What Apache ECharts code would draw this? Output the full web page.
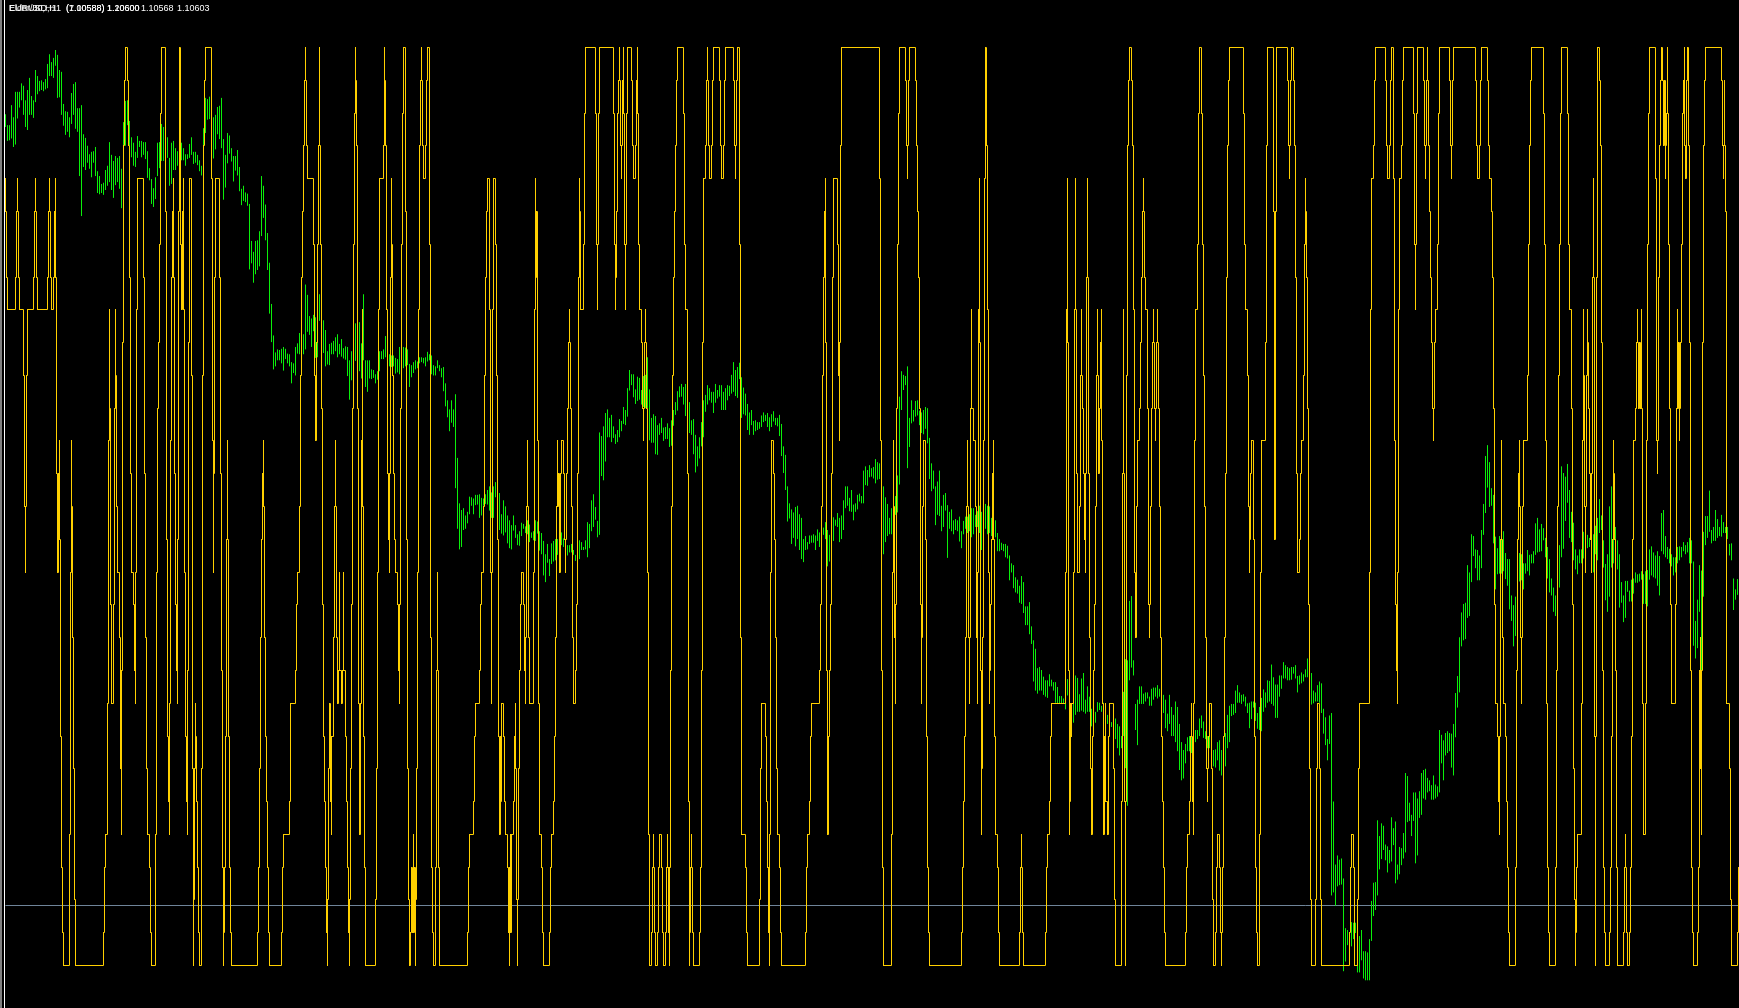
<!DOCTYPE html>
<html>
<head>
<meta charset="utf-8">
<style>html,body{margin:0;padding:0;background:#000}#c{width:1739px;height:1008px}</style>
<script src="https://cdn.jsdelivr.net/npm/echarts@6/dist/echarts.min.js"></script>
</head>
<body>
<div id="c"></div>
<script>
// price bars: [high, low], one bar every second time step, in an unlabelled price scale (larger = lower on screen)
const barStart = 5;
const barStep = 2;
const priceRanges = [
[139,160],[157,183],[157,182],[124,179],[144,193],[102,189],[102,146],[102,128],[88,116],[92,140],[116,160],[99,165],[79,140],[109,140],[116,145],[66,119],[76,106],[84,101],[83,99],[86,101],[81,98],[56,96],[40,76],[53,76],[46,79],[33,59],[41,112],[66,111],[69,140],[122,158],[134,173],[135,168],[144,177],[104,155],[89,140],[86,163],[129,168],[129,241],[124,307],[172,226],[178,231],[191,219],[205,229],[201,243],[200,219],[193,241],[233,269],[241,271],[254,269],[252,272],[231,264],[224,257],[185,251],[206,264],[216,277],[208,256],[211,251],[208,262],[229,294],[152,191],[117,191],[116,157],[150,190],[177,210],[186,224],[201,226],[175,211],[183,193],[183,210],[185,206],[185,213],[200,244],[228,248],[246,287],[261,292],[243,279],[186,241],[185,228],[155,216],[160,216],[190,215],[177,211],[211,257],[186,254],[183,231],[195,231],[200,224],[203,228],[186,215],[195,215],[205,224],[205,213],[188,211],[177,206],[201,221],[201,219],[206,223],[215,233],
[224,240],[162,190],[112,170],[114,148],[110,147],[112,160],[144,212],[140,197],[127,172],[125,180],[112,195],[180,280],[206,260],[170,220],[174,204],[195,217],[208,250],[208,232],[198,240],[226,266],[262,289],[257,282],[268,284],[270,290],[287,395],[348,385],[366,417],[348,403],[347,396],[332,390],[241,340],[257,310],[288,347],[335,396],[384,468],[452,515],[504,560],[532,555],[527,545],[528,545],[526,550],[523,562],[526,543],[534,550],[535,555],[548,583],[550,566],[523,570],[517,534],[500,535],[480,535],[502,535],[420,527],[437,498],[472,503],[476,523],[470,497],[474,541],[515,540],[436,480],[515,533],[479,533],[495,555],[530,552],[518,553],[516,535],[513,535],[507,530],[502,540],[518,535],[510,539],[525,542],[522,544],[523,571],[545,610],[530,578],[516,560],[484,546],[515,527],[482,563],[517,575],[436,545],[545,589],[545,597],[545,575],[560,576],[561,574],[568,583],[563,577],[530,563],[530,543],[527,543],[505,540],[502,540],[535,555],[537,556],[537,555],[541,567],[543,565],[523,568],[540,558],[523,558],[524,555],[527,553],[551,589],[553,573],[548,566],[545,560],[547,558],[540,550],[540,548],[541,550],
[540,555],[531,547],[535,545],[537,568],[553,570],[555,570],[545,558],[553,563],[558,573],[556,596],[583,621],[611,639],[626,662],[611,648],[626,655],[601,756],[706,823],[781,857],[792,853],[789,825],[801,823],[795,814],[770,799],[771,785],[773,799],[767,784],[767,783],[766,805],[772,801],[773,785],[766,782],[759,783],[753,793],[763,805],[753,805],[746,771],[770,795],[764,825],[799,831],[776,834],[786,829],[801,847],[809,855],[817,857],[801,826],[817,838],[832,850],[827,851],[813,835],[815,823],[819,830],[809,832],[816,845],[829,838],[827,842],[809,843],[811,831],[827,859],[830,865],[843,900],[865,911],[848,879],[873,901],[847,881],[843,877],[840,875],[840,866],[839,851],[829,850],[839,853],[840,855],[850,867],[850,862],[848,862],[858,866],[866,876],[855,868],[842,873],[845,858],[853,858],[842,857],[812,870],[815,855],[776,827],[766,820],[787,808],[810,837],[664,833],[670,736],[654,743],[632,712],[626,672],[640,672],[635,680],[654,673],[667,683],[660,680],[642,672],[645,662],[622,650],[627,652],[591,638],[561,595],[568,586],[568,606],[593,617],[572,612],[574,610],[594,618],[571,622],[569,624],[540,624],[593,677],
[640,681],[634,681],[637,700],[652,701],[649,668],[640,665],[656,678],[655,675],[649,675],[657,688],[644,686],[627,653],[614,635],[596,628],[588,606],[584,605],[589,618],[584,637],[601,657],[614,665],[644,668],[642,700],[668,730],[687,720],[672,707],[647,687],[611,672],[602,630],[586,618],[591,611],[597,615],[597,632],[584,615],[594,608],[586,605],[586,627],[597,627],[591,627],[586,611],[587,604],[569,600],[548,597],[561,604],[556,607],[549,576],[573,640],[590,634],[600,636],[617,660],[631,668],[627,652],[645,668],[644,662],[647,660],[647,658],[636,655],[631,647],[635,645],[632,655],[639,662],[634,655],[629,646],[640,652],[640,654],[635,670],[650,703],[687,731],[701,759],[753,811],[781,806],[791,848],[796,838],[787,852],[785,840],[799,858],[805,873],[840,878],[835,858],[845,857],[834,848],[834,846],[832,846],[834,858],[824,843],[829,853],[820,835],[821,833],[812,840],[825,885],[833,877],[825,860],[804,843],[808,818],[797,820],[805,845],[801,840],[776,825],[753,789],[753,785],[772,794],[759,795],[783,809],[781,795],[767,791],[765,778],[769,781],[727,781],[720,751],[726,752],[718,738],[723,737],[721,740],
[708,748],[713,742],[715,741],[715,738],[753,865],[771,845],[782,835],[805,832],[789,832],[785,800],[769,800],[735,796],[605,750],[563,627],[569,594],[571,586],[555,723],[640,688],[611,649],[627,646],[612,638],[611,636],[628,652],[631,665],[627,667],[622,658],[624,682],[673,741],[715,761],[727,757],[753,817],[745,800],[727,802],[785,827],[767,820],[764,793],[784,871],[795,823],[791,827],[809,832],[807,825],[809,827],[803,844],[827,855],[810,832],[803,823],[803,830],[799,827],[789,837],[789,832],[800,820],[794,820],[785,830],[795,858],[790,825],[782,823],[785,832],[786,830],[805,835],[810,840],[809,837],[830,860],[840,860],[846,858],[848,860],[848,870],[851,872],[867,908],[880,895],[883,921],[903,928],[907,930],[917,945],[901,947],[911,962],[951,982],[951,982],[944,997],[984,1013],[1007,1075],[1021,1090],[1053,1095],[1051,1090],[1056,1090],[1067,1097],[1073,1100],[1073,1102],[1063,1083],[1072,1083],[1076,1090],[1076,1110],[1084,1112],[1099,1112],[1099,1112],[1103,1112],[1108,1121],[1071,1098],[1100,1120],[1115,1135],[1110,1143],[1065,1130],[1069,1125],[1096,1125],[1070,1123],[1061,1125],[1105,1128],[1083,1125],[1100,1125],[1120,1149],[1120,1150],[1125,1143],[1109,1125],[1110,1122],
[1115,1125],[1110,1130],[1112,1125],[1130,1145],[1115,1130],[1142,1150],[1112,1130],[1136,1170],[1145,1185],[1149,1197],[1165,1185],[1092,1165],[1038,1218],[1040,1280],[942,1073],[934,1052],[1040,1065],[1112,1155],[1105,1180],[1083,1112],[1083,1112],[1095,1112],[1093,1108],[1093,1103],[1100,1115],[1087,1115],[1085,1105],[1085,1100],[1081,1103],[1087,1100],[1100,1155],[1097,1127],[1105,1152],[1128,1157],[1097,1145],[1117,1165],[1130,1165],[1108,1175],[1117,1190],[1145,1221],[1175,1238],[1188,1235],[1178,1210],[1167,1190],[1165,1190],[1165,1193],[1163,1178],[1155,1175],[1155,1170],[1136,1165],[1131,1152],[1141,1168],[1157,1170],[1165,1185],[1165,1185],[1185,1205],[1188,1215],[1187,1217],[1175,1205],[1172,1222],[1188,1230],[1187,1218],[1160,1215],[1130,1185],[1115,1175],[1112,1132],[1112,1130],[1090,1127],[1081,1110],[1093,1110],[1097,1112],[1096,1108],[1100,1116],[1111,1127],[1110,1152],[1108,1137],[1108,1118],[1110,1140],[1127,1153],[1117,1155],[1102,1157],[1088,1125],[1093,1118],[1073,1110],[1074,1108],[1047,1112],[1068,1115],[1080,1135],[1080,1135],[1065,1100],[1065,1087],[1043,1070],[1048,1070],[1051,1073],[1053,1073],[1051,1072],[1051,1062],[1048,1070],[1066,1093],[1065,1080],[1060,1078],[1063,1075],[1055,1068],[1037,1068],[1063,1080],[1061,1113],[1090,1111],[1093,1108],[1081,1108],[1075,1110],[1078,1127],[1120,1161],
[1134,1180],[1170,1205],[1131,1178],[1127,1428],[1273,1423],[1377,1445],[1362,1413],[1369,1411],[1367,1410],[1400,1553],[1482,1537],[1485,1510],[1490,1510],[1472,1512],[1473,1500],[1473,1490],[1490,1555],[1495,1555],[1485,1535],[1520,1565],[1520,1568],[1522,1568],[1500,1568],[1437,1503],[1407,1462],[1406,1452],[1304,1428],[1330,1385],[1309,1368],[1313,1353],[1344,1370],[1347,1390],[1353,1375],[1299,1372],[1317,1345],[1306,1408],[1377,1402],[1348,1393],[1350,1378],[1325,1367],[1226,1357],[1231,1307],[1275,1305],[1295,1330],[1258,1305],[1258,1375],[1268,1362],[1256,1300],[1226,1295],[1221,1268],[1219,1270],[1234,1258],[1238,1256],[1246,1270],[1230,1270],[1245,1268],[1248,1265],[1155,1258],[1163,1210],[1172,1238],[1160,1197],[1157,1193],[1160,1190],[1161,1217],[1145,1230],[1094,1167],[1066,1118],[1002,1093],[961,1017],[947,1007],[945,1005],[883,970],[895,967],[832,911],[835,868],[857,888],[858,908],[867,908],[825,888],[782,833],[703,797],[685,755],[713,787],[756,785],[767,847],[836,923],[855,898],[835,897],[840,897],[827,893],[863,906],[873,917],[873,956],[933,975],[949,1017],[935,1000],[880,950],[863,910],[865,908],[880,923],[880,897],[858,893],[866,900],[865,880],
[860,880],[814,866],[805,862],[824,861],[815,860],[822,842],[838,870],[853,905],[873,928],[905,933],[920,960],[933,967],[890,950],[850,920],[720,870],[731,856],[737,810],[716,780],[759,838],[795,845],[813,875],[857,890],[867,898],[857,880],[857,880],[828,872],[840,895],[833,855],[838,853],[810,838],[832,895],[818,865],[805,875],[774,830],[801,825],[842,887],[881,941],[865,960],[786,935],[753,887],[839,880],[820,880],[842,890],[865,953],[911,945],[933,977],[909,970],[909,927],[925,943],[907,943],[905,930],[895,912],[898,912],[897,910],[893,907],[898,947],[893,947],[891,951],[857,907],[852,900],[862,903],[867,905],[860,917],[868,933],[797,860],[792,865],[835,870],[853,873],[856,880],[865,885],[870,900],[870,895],[853,880],[852,875],[853,870],[845,860],[850,865],[845,862],[838,880],[842,880],[877,1016],[975,1037],[940,1020],[883,960],[892,1057],[828,935],[802,850],[802,838],[760,828],[825,847],[820,843],[792,843],[807,838],[820,835],[800,836],[812,830],[820,830],[820,840],[848,867],[847,875],[905,957],[923,940],[906,932]
];
// oscillator: [time step, band number] at every change, band 0 is the top band and band 28 the bottom band
const oscillatorSteps = [
[5,4],[5,5],[6,7],[7,8],[15,7],[16,5],[17,4],[17,5],[18,7],[19,8],[23,10],[24,14],[25,16],[25,14],[26,10],[27,8],[33,7],[34,5],[35,4],[35,5],[36,7],[37,8],[47,7],[48,5],[49,4],[49,5],[50,7],[51,8],[53,7],[54,5],[55,4],[55,7],[56,13],[57,16],[58,13],[59,12],[59,15],[60,21],[61,25],[62,27],[63,28],[69,24],[70,16],[71,12],[71,14],[72,18],[73,22],[74,26],[75,28],[103,27],[104,25],[105,24],[107,20],[108,12],[109,8],[109,11],[110,17],[111,20],[113,17],[114,11],[115,8],[115,10],[116,14],[117,16],[119,18],[120,22],[121,24],[121,19],[122,9],[123,3],[124,1],[125,0],[127,1],[128,3],[129,7],[130,13],[131,16],[133,17],[134,19],[135,20],[135,16],[136,8],[137,4],[143,7],[144,13],[145,18],[146,22],[147,24],[149,25],[150,27],[151,28],[155,24],[156,16],[157,11],[158,9],[159,6],[160,2],[161,0],[165,5],[166,15],[167,21],[168,23],[169,24],[169,20],[170,12],[171,7],[172,5],[173,4],[173,7],[174,13],[175,17],[176,19],[177,20],[177,15],[178,5],[179,0],[180,6],[181,8],[182,5],[183,4],[183,8],[184,16],[185,21],[186,23],[187,24],[187,19],[188,9],[189,4],[191,10],[192,22],[193,28],[193,26],[194,22],[195,20],[195,21],[196,23],[197,25],[198,27],[199,28],
[201,22],[202,10],[203,3],[204,1],[205,0],[211,4],[212,12],[213,16],[213,13],[214,7],[215,4],[219,7],[220,13],[221,19],[222,25],[223,28],[223,27],[224,25],[225,21],[226,15],[227,12],[227,15],[228,21],[229,25],[230,27],[231,28],[257,27],[258,25],[259,22],[260,18],[261,15],[262,13],[263,12],[263,14],[264,18],[265,21],[266,23],[267,25],[268,27],[269,28],[281,27],[282,25],[283,24],[289,23],[290,20],[295,19],[296,17],[297,16],[299,14],[300,10],[301,7],[302,5],[303,3],[304,1],[305,0],[305,1],[306,3],[307,4],[313,6],[314,10],[315,12],[316,9],[317,6],[318,3],[319,0],[319,3],[320,6],[321,11],[322,17],[323,21],[324,23],[325,25],[326,27],[327,28],[327,26],[328,22],[329,20],[330,23],[331,24],[331,21],[333,18],[334,14],[335,12],[335,14],[336,18],[337,20],[338,19],[339,16],[339,19],[341,20],[342,19],[343,16],[343,19],[345,21],[346,23],[347,25],[348,27],[349,28],[349,26],[350,22],[351,17],[352,11],[353,6],[354,2],[355,0],[355,1],[356,3],[357,11],[358,20],[359,24],[360,20],[361,12],[362,8],[362,14],[363,21],[364,25],[365,28],[375,26],[376,22],[377,16],[378,8],[379,4],[383,3],[384,0],[384,1],[385,3],[386,8],[387,13],[388,15],[389,16],[389,13],[390,7],[391,4],[391,6],[392,10],[393,13],[394,15],[395,16],[397,17],[398,19],[399,20],[399,17],[400,11],[401,6],[402,2],[403,0],[405,5],[406,15],[407,22],[408,26],[409,28],[410,27],[411,25],[412,27],[413,24],[413,27],[414,25],[415,28],[415,26],[416,22],[417,16],[418,8],[419,3],[420,1],[421,0],[421,1],[422,3],[423,4],
[425,3],[426,1],[427,0],[429,6],[430,18],[431,25],[432,27],[433,28],[435,25],[436,19],[437,16],[437,19],[438,25],[439,28],[467,27],[468,25],[469,24],[473,23],[474,21],[475,20],[479,19],[480,17],[481,16],[483,14],[484,10],[485,7],[486,5],[487,4],[489,8],[490,16],[491,20],[491,16],[492,8],[493,4],[495,6],[496,10],[497,15],[498,21],[499,24],[500,21],[500,23],[501,20],[503,21],[504,23],[505,24],[507,25],[508,27],[509,28],[509,25],[510,24],[510,27],[511,24],[513,23],[514,21],[515,20],[515,22],[516,26],[517,28],[517,26],[518,22],[519,19],[520,17],[521,16],[523,17],[524,19],[525,20],[525,18],[526,14],[527,12],[527,14],[528,18],[529,20],[533,16],[534,8],[535,4],[535,7],[536,5],[537,12],[538,20],[539,24],[541,25],[542,27],[543,28],[549,27],[550,25],[551,24],[553,23],[554,21],[555,18],[556,14],[557,12],[557,14],[558,13],[559,16],[560,13],[561,12],[563,13],[564,15],[565,16],[565,15],[566,13],[567,11],[568,9],[569,8],[569,9],[570,11],[571,14],[572,18],[573,20],[575,19],[576,17],[577,13],[578,7],[579,4],[579,5],[580,8],[583,6],[584,2],[585,0],[595,2],[596,6],[597,8],[597,6],[598,2],[599,0],[613,2],[614,6],[615,8],[615,7],[616,5],[617,2],[618,1],[619,0],[619,1],[620,3],[621,4],[621,3],[622,1],[623,0],[623,2],[624,6],[625,8],[625,6],[626,2],[627,0],[631,1],[632,3],[633,4],[635,3],[636,1],[637,0],[637,2],[638,6],[639,8],[641,9],[642,11],[643,12],[643,11],[644,9],[645,8],[645,9],[646,11],[647,16],[648,24],[649,28],
[651,27],[652,25],[653,24],[653,25],[654,27],[655,28],[657,27],[658,25],[659,24],[661,25],[662,27],[663,28],[665,27],[666,25],[667,24],[667,25],[668,27],[668,25],[669,28],[669,25],[670,19],[671,14],[672,10],[673,7],[674,5],[675,3],[676,1],[677,0],[683,2],[684,6],[685,8],[687,13],[688,23],[689,28],[689,27],[690,25],[691,24],[691,25],[692,27],[693,28],[699,27],[700,25],[701,19],[702,9],[703,4],[705,3],[706,1],[707,0],[707,1],[708,3],[709,4],[711,3],[712,1],[713,0],[719,1],[720,3],[721,4],[723,3],[724,1],[725,0],[733,1],[734,3],[735,4],[735,3],[736,1],[737,0],[739,6],[740,18],[741,24],[745,25],[746,27],[747,28],[759,26],[760,22],[761,20],[765,21],[766,23],[767,25],[768,27],[768,25],[769,28],[769,24],[770,16],[771,12],[773,13],[774,15],[775,18],[776,22],[777,24],[779,25],[780,27],[781,28],[805,27],[806,25],[807,24],[809,23],[810,21],[811,20],[819,19],[820,17],[821,14],[822,10],[823,7],[824,5],[825,4],[825,9],[826,19],[827,24],[828,23],[828,21],[829,19],[830,17],[831,13],[832,7],[833,4],[837,6],[838,10],[839,12],[839,9],[840,3],[841,0],
[879,4],[880,12],[881,19],[882,25],[883,28],[891,24],[892,16],[893,12],[893,14],[894,18],[895,20],[895,17],[896,11],[897,6],[898,2],[899,0],[905,1],[906,3],[907,4],[907,3],[908,1],[909,0],[915,1],[916,3],[917,5],[918,7],[919,11],[920,17],[921,20],[921,18],[922,14],[923,12],[925,15],[926,21],[927,25],[928,27],[929,28],[961,27],[962,25],[963,23],[964,21],[965,18],[966,14],[967,12],[967,14],[968,18],[969,20],[969,18],[970,11],[971,8],[971,11],[973,12],[975,14],[976,18],[977,20],[977,16],[978,8],[979,4],[979,9],[980,19],[981,24],[981,22],[982,18],[983,12],[984,4],[985,0],[986,3],[987,8],[988,16],[989,20],[989,19],[990,17],[991,15],[992,13],[992,15],[993,12],[993,15],[994,21],[995,24],[997,25],[998,27],[999,28],[1019,27],[1020,25],[1021,24],[1021,25],[1022,27],[1023,28],[1045,27],[1046,25],[1047,24],[1049,23],[1050,21],[1051,20],[1065,16],[1066,8],[1067,4],[1067,9],[1068,19],[1069,24],[1069,23],[1070,20],[1071,21],[1071,20],[1073,16],[1074,8],[1075,4],[1075,8],[1076,13],[1077,16],[1079,14],[1080,10],[1081,8],[1081,10],[1082,11],[1083,13],[1084,15],[1085,16],[1085,13],[1086,7],[1087,4],[1087,7],[1088,13],[1089,18],[1090,22],[1091,24],[1092,21],[1093,19],[1094,17],[1095,14],[1096,10],[1097,8],[1097,10],[1098,13],[1099,11],[1100,9],[1101,8],[1101,12],[1102,20],
[1103,24],[1104,21],[1105,20],[1105,23],[1107,24],[1108,21],[1109,20],[1113,22],[1114,26],[1115,28],[1121,23],[1122,13],[1123,8],[1123,13],[1124,23],[1125,28],[1125,23],[1126,10],[1127,3],[1128,1],[1129,0],[1131,1],[1132,3],[1133,8],[1134,16],[1135,18],[1136,14],[1137,12],[1139,11],[1140,9],[1141,7],[1142,5],[1143,4],[1143,5],[1144,7],[1145,8],[1147,11],[1148,17],[1149,18],[1149,17],[1150,14],[1151,11],[1152,9],[1153,8],[1153,9],[1154,11],[1155,12],[1155,11],[1156,9],[1157,8],[1157,9],[1158,11],[1159,14],[1160,18],[1161,21],[1162,23],[1163,25],[1164,27],[1165,28],[1185,27],[1186,25],[1187,24],[1189,23],[1190,21],[1191,20],[1191,21],[1192,23],[1193,24],[1193,20],[1194,12],[1195,8],[1197,6],[1198,2],[1199,0],[1201,2],[1202,6],[1203,10],[1204,14],[1205,18],[1206,22],[1207,23],[1207,22],[1208,21],[1209,20],[1211,22],[1212,26],[1213,28],[1215,27],[1216,25],[1217,24],[1219,25],[1220,27],[1221,28],[1221,27],[1222,25],[1223,21],[1224,18],[1225,13],[1226,7],[1227,3],[1228,1],[1229,0],[1243,2],[1244,6],[1245,8],[1247,10],[1248,14],[1249,16],[1249,15],[1250,13],[1251,12],[1253,15],[1254,21],[1255,25],[1256,27],[1257,28],[1259,24],[1260,16],[1261,12],[1265,9],[1266,3],[1267,0],[1273,5],[1274,15],[1275,5],[1276,0],[1287,1],[1288,3],[1289,4],[1289,3],[1290,1],[1291,0],[1293,1],[1294,3],[1295,7],[1296,13],[1297,16],[1299,15],[1300,13],[1301,12],[1303,10],[1304,6],[1305,4],[1305,5],[1306,7],[1307,11],[1308,17],[1309,22],[1310,26],[1311,28],[1315,26],[1316,22],[1317,20],[1319,22],[1320,26],[1321,28],
[1349,27],[1350,25],[1351,24],[1353,25],[1354,28],[1357,26],[1358,22],[1359,20],[1369,16],[1370,8],[1371,4],[1373,3],[1374,1],[1375,0],[1385,1],[1386,3],[1387,4],[1389,3],[1390,1],[1391,0],[1393,4],[1394,12],[1395,17],[1396,19],[1397,20],[1397,16],[1398,8],[1399,4],[1401,3],[1402,1],[1403,0],[1413,2],[1414,6],[1415,8],[1415,6],[1416,2],[1417,0],[1423,1],[1424,3],[1425,4],[1425,3],[1426,1],[1427,0],[1427,1],[1428,3],[1429,5],[1430,7],[1431,9],[1432,11],[1433,12],[1433,11],[1434,9],[1435,8],[1437,6],[1438,2],[1439,0],[1449,1],[1450,3],[1451,4],[1451,3],[1452,1],[1453,0],[1475,1],[1476,3],[1477,4],[1479,3],[1480,1],[1481,0],[1487,1],[1488,3],[1489,4],[1491,5],[1492,7],[1493,11],[1494,17],[1495,20],[1497,21],[1498,23],[1499,24],[1499,21],[1500,15],[1501,12],[1501,15],[1502,18],[1503,20],[1505,21],[1506,23],[1507,25],[1508,27],[1509,28],[1515,25],[1516,19],[1517,15],[1518,13],[1519,12],[1519,14],[1520,18],[1521,20],[1521,18],[1522,14],[1523,12],[1527,10],[1528,6],[1529,3],[1530,1],[1531,0],
[1543,2],[1544,6],[1545,12],[1546,20],[1547,25],[1548,27],[1549,28],[1555,25],[1556,19],[1557,14],[1558,10],[1559,6],[1560,2],[1561,0],[1567,2],[1568,6],[1569,8],[1571,11],[1572,17],[1573,22],[1574,26],[1575,28],[1575,27],[1576,25],[1577,24],[1581,20],[1582,12],[1583,8],[1583,10],[1584,14],[1585,16],[1585,14],[1586,10],[1587,8],[1587,9],[1588,11],[1589,13],[1590,15],[1591,16],[1591,13],[1592,7],[1593,4],[1593,7],[1594,21],[1595,28],[1595,21],[1596,7],[1597,0],[1599,1],[1600,3],[1601,9],[1602,19],[1603,25],[1604,27],[1605,28],[1609,27],[1610,25],[1611,21],[1612,15],[1613,12],[1613,13],[1614,15],[1615,19],[1616,25],[1617,28],[1623,27],[1624,25],[1625,24],[1625,25],[1626,27],[1627,28],[1629,27],[1630,25],[1631,21],[1632,15],[1633,12],[1635,11],[1636,9],[1637,8],[1637,9],[1638,11],[1639,9],[1640,11],[1641,8],[1641,11],[1642,20],[1643,24],[1645,20],[1646,12],[1647,6],[1648,2],[1649,0],[1655,4],[1656,12],[1657,13],[1657,12],[1658,7],[1659,3],[1660,1],[1661,0],[1662,1],[1663,3],[1664,1],[1665,4],[1665,3],[1666,2],[1667,0],[1667,2],[1668,6],[1669,11],[1670,17],[1671,20],[1675,17],[1676,11],[1677,8],[1677,11],[1678,9],[1679,12],[1679,11],[1680,9],[1681,6],[1682,2],[1683,1],[1684,0],[1684,3],[1685,4],[1686,1],[1687,0],[1688,3],[1689,9],[1690,19],[1691,25],[1692,27],[1693,28],[1697,27],[1698,25],[1699,19],[1700,18],[1700,22],[1701,24],[1701,19],[1702,9],[1703,3],[1704,1],[1705,0],[1721,1],[1722,3],[1723,4],[1723,3],[1724,1],[1724,3],[1725,5],[1726,20],[1729,22],[1730,26],[1731,28],[1737,27],[1738,25]
];
const horizontalLevel = 1444.6;
const horizontalSpan = [5, 1738];
const headerTokens = [
  ['EURUSD,H1', 9], ['Elder/30,H1', 9],
  ['(1.00588)', 66], ['(7.10588)', 66],
  ['1.10600', 107], ['1.20600', 107],
  ['1.10568', 141],
  ['1.10603', 177]
];

const COLORS = { bg: '#000000', bar: '#0aef0a', osc: '#ffd000', level: '#6f8499', text: '#ffffff' };

const chart = echarts.init(document.getElementById('c'), null, { renderer: 'canvas', width: 1739, height: 1008 });

const barData = priceRanges.map((r, i) => [barStart + i * barStep, r[0], r[1]]);

function snap(v) { return Math.floor(v) + 0.5; }

chart.setOption({
  animation: false,
  backgroundColor: COLORS.bg,
  grid: [
    { left: 0, top: 0, width: 1739, height: 1008, containLabel: false },
    { left: 0, top: 47.5, width: 1739, height: 918, containLabel: false }
  ],
  xAxis: [
    { type: 'value', gridIndex: 0, min: -0.5, max: 1738.5, show: false },
    { type: 'value', gridIndex: 1, min: -0.5, max: 1738.5, show: false }
  ],
  yAxis: [
    { type: 'value', gridIndex: 0, min: -49.5, max: 1613.7, inverse: true, show: false, scale: true },
    { type: 'value', gridIndex: 1, min: 0, max: 28, inverse: true, show: false }
  ],
  series: [
    {
      type: 'custom', xAxisIndex: 0, yAxisIndex: 0, z: 1, silent: true, progressive: 0,
      data: [[horizontalSpan[0], horizontalLevel, horizontalSpan[1]]],
      encode: { x: [0, 2], y: 1 },
      renderItem: function (params, api) {
        const a = api.coord([api.value(0), api.value(1)]);
        const b = api.coord([api.value(2), api.value(1)]);
        return {
          type: 'line',
          shape: { x1: a[0], y1: snap(a[1]), x2: b[0], y2: snap(a[1]) },
          style: { stroke: COLORS.level, lineWidth: 1, fill: null }
        };
      }
    },
    {
      type: 'custom', xAxisIndex: 0, yAxisIndex: 0, z: 2, silent: true, progressive: 0,
      data: barData,
      encode: { x: 0, y: [1, 2] },
      renderItem: function (params, api) {
        const hi = api.coord([api.value(0), api.value(1)]);
        const lo = api.coord([api.value(0), api.value(2)]);
        return {
          type: 'line',
          shape: { x1: hi[0], y1: hi[1], x2: lo[0], y2: lo[1] },
          style: { stroke: COLORS.bar, lineWidth: 1, fill: null }
        };
      }
    },
    {
      type: 'custom', xAxisIndex: 1, yAxisIndex: 1, z: 3, silent: true, progressive: 0,
      data: oscillatorSteps,
      encode: { x: 0, y: 1 },
      renderItem: function (params, api) {
        const i = params.dataIndex;
        if (i === 0) { return null; }
        const cur = api.coord([api.value(0), api.value(1)]);
        const prev = api.coord(oscillatorSteps[i - 1]);
        return {
          type: 'polyline',
          shape: { points: [[prev[0], snap(prev[1])], [cur[0], snap(prev[1])], [cur[0], snap(cur[1])]] },
          style: { stroke: COLORS.osc, lineWidth: 1, fill: null, lineCap: 'square', lineJoin: 'miter' }
        };
      }
    }
  ],
  graphic: [
    { type: 'rect', silent: true, z: 100, shape: { x: 0, y: 0, width: 2, height: 1008 }, style: { fill: '#808080' } },
    { type: 'rect', silent: true, z: 100, shape: { x: 4, y: 0, width: 1, height: 1008 }, style: { fill: '#ffffff' } }
  ].concat(headerTokens.map(t => ({
    type: 'text', silent: true, z: 101, x: t[1], y: 4,
    style: { text: t[0], fill: COLORS.text, font: '9px "Liberation Sans", sans-serif' }
  })))
});
</script>
</body>
</html>
